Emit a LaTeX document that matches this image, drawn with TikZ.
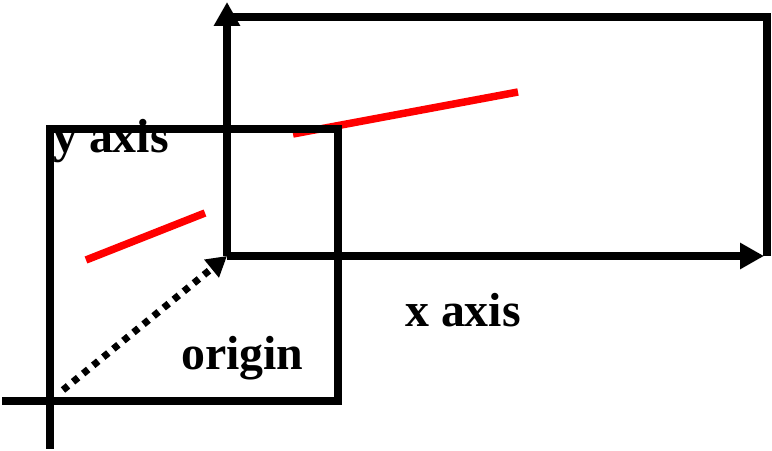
\documentclass[tikz,border=0pt]{standalone}
\usepackage{fontspec}
\setmainfont{Liberation Serif}
\usetikzlibrary{positioning,calc,arrows.meta}
\definecolor{cred}{HTML}{FF0000}
\definecolor{cink}{HTML}{000000}
\tikzset{
  axisline/.style={cink,line width=7.5bp},
  redseg/.style={cred,line width=7.5bp},
  lbl/.style={font=\fontsize{48}{52}\selectfont\bfseries,inner sep=0pt,anchor=base west},
  bigtip/.style={-{Triangle[length=24bp,width=25bp]}},
}

\begin{document}
\begin{tikzpicture}[x=1bp,y=-1bp,>=stealth]
        \useasboundingbox (0,0) rectangle (772,451);
        \coordinate (O) at (50,401);
        \coordinate (P) at (227,256);
        % red segments, under the frames
        \draw[redseg] (86,260) -- (205,213);
        \draw[redseg] (293,134) -- (518,92);
        % old frame with its axes through O
        \draw[axisline] (O) rectangle (338,129);
        \draw[axisline] (2,401) -- (O);
        \draw[axisline] (O) -- (50,449);
        % new frame at P
        \draw[axisline] (227,17) -- (767,17) -- (767,256);
        \draw[axisline,bigtip] (P) -- (227,2);
        \draw[axisline,bigtip] (P) -- (764,256);
        \draw[cink,line width=7bp,dash pattern=on 6.5bp off 6.5bp,
              -{Triangle[length=20bp,width=22bp]}] (63,390) -- (P);
        \node[lbl] (yax) at (53,153) {y axis};
        \node[lbl] (xax) at (405,327) {x axis};
        \node[lbl] (org) at (181,370) {origin};
      \end{tikzpicture}
\end{document}
